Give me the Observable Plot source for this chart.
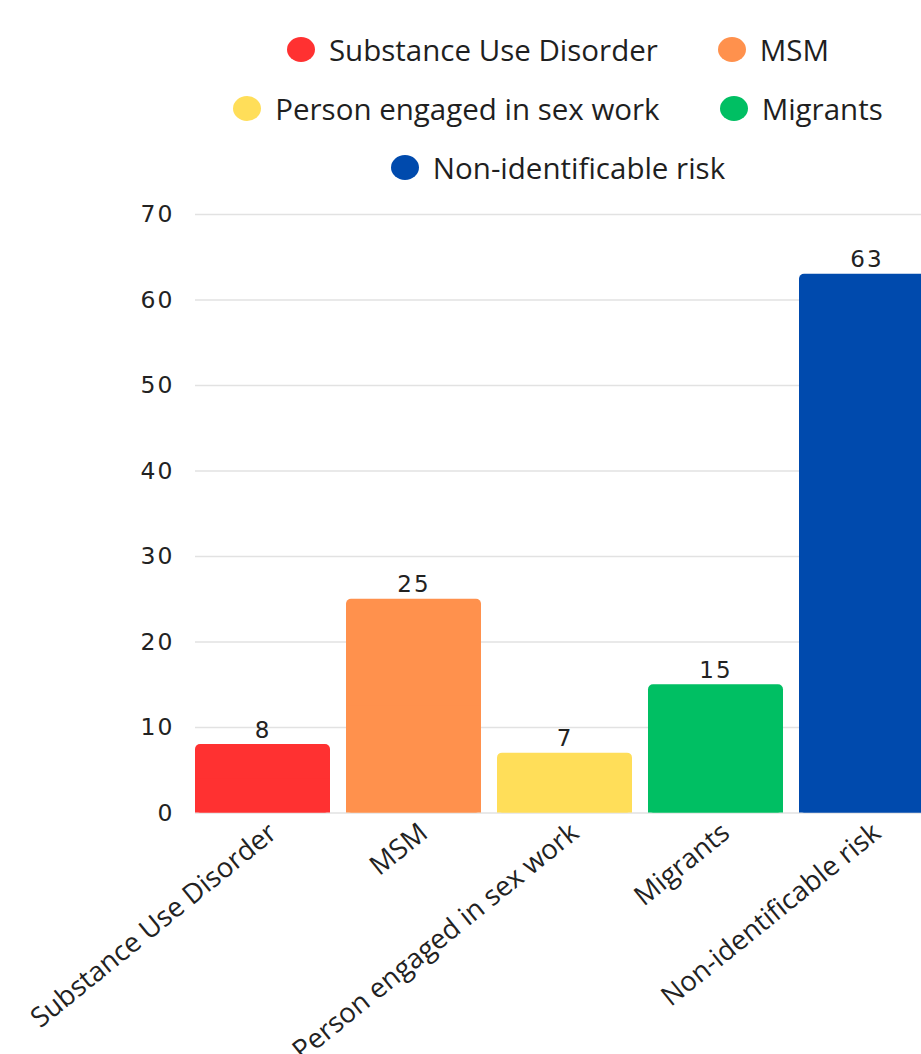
<!DOCTYPE html>
<html>
<head>
<meta charset="utf-8">
<script src="https://cdn.jsdelivr.net/npm/d3@7"></script>
<script src="https://cdn.jsdelivr.net/npm/@observablehq/plot@0.6"></script>
<style>
  html, body { margin: 0; padding: 0; background: #fff; overflow: hidden; width: 921px; height: 1054px; }
  #legend {
    margin-left: 195px; width: 726px; height: 195px; padding-top: 20px; box-sizing: border-box;
    display: flex; flex-wrap: wrap; justify-content: center; align-content: flex-start; column-gap: 60px;
    font-family: "Open Sans", sans-serif; font-size: 29.5px; color: #1f1f1f;
  }
  .item { display: flex; align-items: center; height: 59px; gap: 14px; white-space: nowrap; }
  .dot { width: 28px; height: 25px; border-radius: 50%; display: inline-block; }
  #chart svg { display: block; }
  g[aria-label="y-axis tick label"] text, g.values text { letter-spacing: 2px; }
</style>
</head>
<body>
<div id="legend"></div>
<div id="chart"></div>
<script>
const categories = ["Substance Use Disorder", "MSM", "Person engaged in sex work", "Migrants", "Non-identificable risk"];
const values = [8, 25, 7, 15, 63];
const colors = ["#FF3131", "#FF914D", "#FFDE59", "#00BF63", "#004AAD"];
const yTicks = [0, 10, 20, 30, 40, 50, 60, 70];

const data = categories.map((c, i) => ({cat: c, value: values[i]}));

const legend = document.getElementById("legend");
categories.forEach((c, i) => {
  const item = document.createElement("div");
  item.className = "item";
  const dot = document.createElement("span");
  dot.className = "dot";
  dot.style.background = colors[i];
  const label = document.createElement("span");
  label.textContent = c;
  item.appendChild(dot);
  item.appendChild(label);
  legend.appendChild(item);
});

const chart = Plot.plot({
  width: 934,
  height: 859,
  marginLeft: 195,
  marginRight: 0,
  marginTop: 19,
  marginBottom: 241.5,
  style: {background: "#fff", overflow: "visible", maxWidth: "none"},
  x: {domain: categories, paddingInner: 0.106, paddingOuter: 0, label: null},
  y: {domain: [0, 70], label: null},
  color: {domain: categories, range: colors},
  marks: [
    Plot.gridY(yTicks, {stroke: "#e2e2e2", strokeOpacity: 1, strokeWidth: 1.5}),
    Plot.axisY(yTicks, {tickSize: 0, tickPadding: 21, fontSize: 23.5, fontFamily: "DejaVu Sans", fill: "#222", label: null}),
    Plot.barY(data, {x: "cat", y: "value", fill: "cat", rx: 5}),
    Plot.barY(data, {x: "cat", y1: 0, y2: d => d.value / 2, fill: "cat"}),
    Plot.text(data, {x: "cat", y: "value", text: d => String(d.value), lineAnchor: "bottom", dy: -7, fontSize: 23, fontFamily: "DejaVu Sans", fill: "#222", className: "values"}),
    Plot.axisX({tickSize: 0, tickRotate: -39, tickPadding: 16, dx: 10, fontSize: 27.5, fontFamily: "Open Sans", fill: "#222", label: null})
  ]
});
document.getElementById("chart").appendChild(chart);
</script>
</body>
</html>
